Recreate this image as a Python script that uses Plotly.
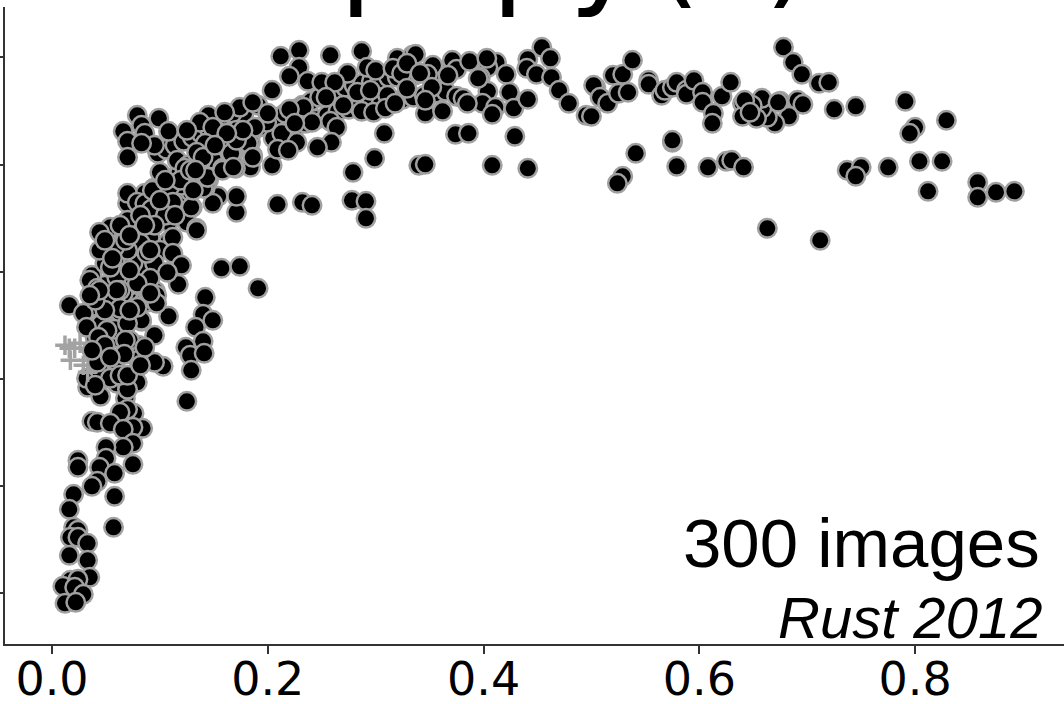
import plotly.graph_objects as go

# Horizontal values (sparseness-like index) and vertical values (arbitrary units: the
# reference's vertical ticks are unlabelled, one tick interval = 107.2 units)
right_x = [.678,.687,.695,.711,.720,.725,.745,.791,.829,.800,.795,.737,.750,.745,.775,.804,.825,.812,.858,.858,.875,.892,.663,.712,.675,.691,.696,.683,.670,.663,.658,.658]
right_y = [546,531,519,510,511,484,487,492,473,466,460,423,426,417,426,432,432,402,411,396,401,402,365,353,492,493,489,477,470,476,485,495]

upper_x = [.454,.441,.462,.440,.449,.463,.470,.479,.495,.500,.504,.502,.508,.515,.520,.529,.538,.525,.534,.553,.553,.565,.568,.575,.579,.588,.588,.595,.603,.603,.613,.612,.621,.629,.640,.640,.649,.653,.642,.647,.673,.429,.408,.441,.541,.529,.524,.575,.575,.579,.608,.625,.630,.641,.404,.412,.404,.421,.397,.404,.424,.399,.411,.408,.428,.441]
upper_y = [546,534,535,525,519,516,503,490,478,477,506,508,496,490,518,519,533,500,501,513,509,498,503,506,511,503,499,513,501,491,480,470,497,511,490,477,488,475,493,481,491,457,428,425,440,417,410,451,453,427,426,432,433,426,534,531,526,519,516,502,501,490,486,479,485,494]

crest_x = [.212,.229,.258,.287,.229,.220,.237,.274,.292,.300,.320,.334,.337,.316,.324,.329,.353,.348,.341,.371,.375,.387,.367,.395,.403,.204,.250,.262,.283,.295,.254,.311,.329,.352,.375,.381,.385,.270,.287,.298,.309,.318,.346,.346,.362,.233,.220,.258,.241,.264,.259,.246,.308,.299,.374,.386,.340,.346,.279,.278,.291,.291,.209,.232,.241,.171,.171,.154,.204]
crest_y = [537,543,538,542,526,517,512,520,526,523,535,538,539,525,520,530,528,519,520,533,524,532,518,515,535,503,511,511,501,503,496,498,505,506,497,495,490,488,482,481,485,490,480,493,482,486,484,472,471,466,451,446,460,435,459,460,428,429,421,393,392,375,389,391,388,381,397,397,428]

band_x = [.167,.149,.184,.167,.149,.199,.191,.200,.213,.209,.227,.225,.219,.186,.184,.170,.142,.145,.149,.174,.186,.145,.160,.137,.145,.162,.177,.171,.188,.156,.168,.158,.137,.079,.099,.066,.083,.108,.070,.086,.095,.083,.070,.125,.149,.182,.186,.116,.100,.126,.140,.145,.130,.103,.112,.120,.091,.079,.070,.079,.086,.093,.108,.125,.134,.112,.091,.054,.044,.057,.051,.070,.082,.100,.112,.120,.117,.095,.107,.091,.060,.037,.035,.042,.066,.079,.084,.097,.108,.038,.016,.046,.063,.083,.029,.049,.075,.070,.088,.123,.142,.166,.171,.129,.092,.058,.134,.109,.119,.131,.144,.158,.168,.177,.162,.134,.112,.128,.140,.105,.133,.151,.105,.095,.068,.114,.091,.072,.063,.054,.044,.049,.063,.082,.100,.086,.072]
band_y = [480,468,451,439,434,471,488,480,460,444,451,470,443,438,426,425,405,413,390,486,491,478,481,471,450,446,456,463,466,460,430,425,430,478,475,462,468,462,452,460,448,450,436,463,466,450,436,433,421,428,405,416,386,394,408,408,383,366,400,391,390,403,371,371,365,356,356,366,361,345,336,373,350,343,340,328,309,330,321,315,316,318,313,305,300,310,290,298,277,287,288,271,281,272,280,330,330,343,340,425,450,440,453,386,384,346,363,406,413,403,416,423,426,463,460,441,391,423,436,413,423,448,378,368,353,378,343,323,303,293,343,353,368,378,393,368,358]

lower_x = [.157,.174,.191,.095,.083,.088,.045,.058,.070,.063,.032,.103,.095,.080,.061,.080,.033,.070,.079,.051,.043,.072,.086,.097,.060,.079,.054,.091,.142,.140,.133,.140,.124,.128,.129,.141,.149,.125,.045,.070,.032,.037,.042,.070,.063,.054,.075,.066,.075,.066,.050,.050,.044,.058,.075,.042,.037,.058,.024,.024,.020,.016,.057,.020,.024,.017,.024,.033,.016,.033,.035,.017,.024,.010,.021,.029,.012,.022,.049,.058,.044,.054,.063,.040,.068,.049,.040,.044,.072,.056,.035,.070,.082]
lower_y = [325,327,305,258,273,291,269,264,270,285,266,227,231,248,221,233,206,206,211,263,256,253,246,290,303,286,326,300,296,279,266,252,246,238,223,240,273,192,197,204,215,172,171,184,181,170,166,164,150,146,146,135,126,120,129,112,107,97,133,126,99,84,66,66,63,56,56,50,38,33,16,13,14,7,6,-1,-10,-9,248,233,223,215,218,208,253,283,293,303,283,335,298,218,228]

# Extra overlapped points that fill the densest part of the band
dense_x = [.040,.048,.056,.064,.072,.080,.088,.096,.052,.060,.068,.076,.084,.092,.100,.108,.058,.066,.074,.082,.090,.098,.106,.114,.122,.070,.078,.086,.094,.102,.110,.118,.126,.134,.142,.098,.106,.114,.122,.130,.138,.146,.154,.162,.170,.178,.120,.128,.136,.144,.152,.160,.168,.176,.184,.192,.200,.208,.216,.224,.232,.240,.248,.256,.264,.272,.280,.288,.296,.304,.312,.320,.328,.336,.344,.352,.360,.368,.205,.215,.225,.235,.245,.255,.265,.275,.285,.295,.305,.315,.325,.335,.345,.355,.365,.060,.068,.076,.084,.046,.054,.062,.044,.058,.072,.086,.049,.072,.091,.063,.082]
dense_y = [255,262,268,275,282,288,295,302,300,308,315,322,330,338,345,352,345,352,360,368,375,382,388,395,402,390,395,400,405,410,415,420,425,430,435,440,444,448,452,456,460,464,468,472,476,480,395,402,410,418,426,434,442,450,458,466,472,476,480,484,488,492,496,500,504,506,508,510,512,514,516,516,518,518,520,520,522,522,455,460,465,470,474,478,482,484,486,488,490,492,494,496,498,500,502,210,195,180,165,240,225,255,293,293,293,293,308,308,331,338,323]

# Circles that sit on top of the grey plus markers
front_x = [.042,.037,.067,.054]
front_y = [231,243,239,236]

plus_x = [.012,.026,.017,.021,.029,.033,.016,.034]
plus_y = [248,250,233,245,228,221,245,233]

tick_x = [0.0, 0.2, 0.4, 0.6, 0.8]
tick_x_text = ["0.0", "0.2", "0.4", "0.6", "0.8"]
tick_y = [0, 107.2, 214.4, 321.6, 428.8, 536]

points_x = dense_x + right_x + upper_x + crest_x + band_x + lower_x
points_y = dense_y + right_y + upper_y + crest_y + band_y + lower_y
assert len(points_x) == len(points_y)

circle = dict(symbol="circle", size=18.5, color="#000000", line=dict(color="#a0a0a0", width=2.5))

fig = go.Figure()
fig.add_trace(go.Scatter(x=points_x, y=points_y, mode="markers", marker=circle,
    showlegend=False, cliponaxis=False))
fig.add_trace(go.Scatter(x=plus_x, y=plus_y, mode="markers",
    marker=dict(symbol="cross-thin", size=14, line=dict(color="#a3a3a3", width=3.5)),
    showlegend=False, cliponaxis=False))
fig.add_trace(go.Scatter(x=front_x, y=front_y, mode="markers", marker=circle,
    showlegend=False, cliponaxis=False))

fig.update_layout(
    width=1064, height=704, autosize=False,
    margin=dict(l=5, r=0, t=7, b=60, autoexpand=False),
    paper_bgcolor="white", plot_bgcolor="white",
    font=dict(family="DejaVu Sans", color="black"),
    xaxis=dict(range=[-0.0436, 0.938], tickmode="array", tickvals=tick_x, ticktext=tick_x_text,
               automargin=False, ticklabelstandoff=-14,
               showgrid=False, zeroline=False, showline=True, linecolor="#333333", linewidth=2,
               ticks="outside", ticklen=8, tickwidth=2, tickcolor="#333333",
               tickfont=dict(family="DejaVu Sans", size=46, color="black")),
    yaxis=dict(range=[-50.7, 586.3], tickmode="array", tickvals=tick_y, ticktext=[""]*6,
               automargin=False,
               showgrid=False, zeroline=False, showline=True, linecolor="#333333", linewidth=2,
               ticks="outside", ticklen=5, tickwidth=2, tickcolor="#333333"),
    annotations=[
        dict(text="Isopopy\u200a(s)", xref="paper", yref="paper", x=0.1492, y=0.975,
             xanchor="left", yanchor="bottom", showarrow=False,
             font=dict(family="DejaVu Sans", size=122, color="black")),
        dict(text="300 images", xref="paper", yref="paper", x=0.979, y=0.094,
             xanchor="right", yanchor="bottom", showarrow=False,
             font=dict(family="Liberation Sans", size=69, color="black")),
        dict(text="<i>Rust 2012</i>", xref="paper", yref="paper", x=0.981, y=-0.012,
             xanchor="right", yanchor="bottom", showarrow=False,
             font=dict(family="Liberation Sans", size=58, color="black")),
    ],
)
fig.write_html("out.html", config=dict(displayModeBar=False),
               post_script="document.body.style.margin='0';document.documentElement.style.overflow='hidden';")
